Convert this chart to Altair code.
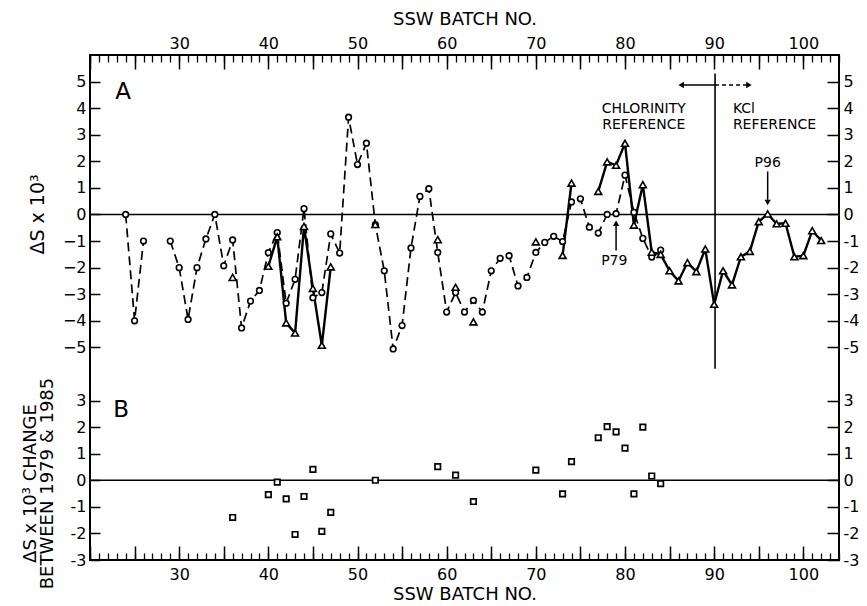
import altair as alt
import pandas as pd

# ---------------- data ----------------
CIRCLE_BATCH = [24, 25, 26,
                29, 30, 31, 32, 33, 34, 35, 36, 37, 38, 39, 40, 41, 42, 43, 44, 45, 46, 47, 48,
                49, 50, 51, 52, 53, 54, 55, 56, 57, 58, 59, 60, 61, 62, 63, 64, 65, 66, 67, 68,
                69, 70, 71, 72, 73, 74, 75, 76, 77, 78, 79, 80, 81, 82, 83, 84]
CIRCLE_VALUE = [0.0, -4.0, -1.0,
                -1.0, -2.0, -3.95, -2.0, -0.92, 0.0, -1.93, -0.96, -4.27, -3.26, -2.86, -1.44,
                -0.68, -3.34, -2.44, 0.22, -3.13, -2.94, -0.73, -1.45,
                3.66, 1.88, 2.68, -0.38, -2.12, -5.06, -4.18, -1.26, 0.68, 0.97, -1.43, -3.67,
                -2.94, -3.67, -3.23, -3.67, -2.12, -1.65, -1.55, -2.69,
                -2.37, -1.43, -1.05, -0.82, -1.02, 0.47, 0.59, -0.48, -0.70, 0.0, 0.03, 1.48,
                0.08, -0.90, -1.60, -1.34]

TRIANGLE_BATCH = [36, 40, 41, 42, 43, 44, 45, 46, 47, 52, 59, 61, 63, 70, 73, 74,
                  77, 78, 79, 80, 81, 82, 83, 84, 85, 86, 87, 88, 89, 90, 91, 92, 93, 94,
                  95, 96, 97, 98, 99, 100, 101, 102]
TRIANGLE_VALUE = [-2.37, -1.95, -0.84, -4.08, -4.46, -0.45, -2.78, -4.92, -1.97, -0.38,
                  -0.95, -2.74, -4.04, -1.03, -1.54, 1.18,
                  0.87, 1.98, 1.85, 2.68, -0.40, 1.12, -1.42, -1.50, -2.12, -2.50, -1.81,
                  -2.15, -1.30, -3.38, -2.12, -2.65, -1.59, -1.39, -0.27, 0.02, -0.35,
                  -0.33, -1.59, -1.55, -0.61, -0.98]

SQUARE_BATCH = [36, 40, 41, 42, 43, 44, 45, 46, 47, 52, 59, 61, 63, 70, 73, 74,
                77, 78, 79, 80, 81, 82, 83, 84]
SQUARE_CHANGE = [-1.40, -0.54, -0.07, -0.70, -2.04, -0.61, 0.41, -1.92, -1.21, 0.0,
                 0.51, 0.19, -0.80, 0.38, -0.51, 0.70,
                 1.60, 2.02, 1.82, 1.21, -0.51, 2.00, 0.16, -0.13]

A_TICKS = [5, 4, 3, 2, 1, 0, -1, -2, -3, -4, -5]
B_TICKS = [3, 2, 1, 0, -1, -2, -3]
X_DOMAIN = [20, 104]
Y_DOMAIN = [-13, 6]
B_OFFSET = -10          # panel B drawn 10 units below panel A on the same frame
ZERO_LINES = [0, B_OFFSET]

DIVIDER_X = 90.1
DIVIDER_Y = [5.3, -5.8]
ARROW_Y = 4.87
LEFT_TIP = 85.9
RIGHT_TIP = 94.3

FONT = "DejaVu Sans"

# ---------------- tables ----------------
circ = pd.DataFrame({"batch": CIRCLE_BATCH, "value": CIRCLE_VALUE})
circ["seg"] = (circ["batch"].diff() != 1).cumsum()
tri = pd.DataFrame({"batch": TRIANGLE_BATCH, "value": TRIANGLE_VALUE})
tri["seg"] = (tri["batch"].diff() != 1).cumsum()
sq = pd.DataFrame({"batch": SQUARE_BATCH,
                   "value": [v + B_OFFSET for v in SQUARE_CHANGE]})
zl = pd.DataFrame({"y": ZERO_LINES})

xs = alt.Scale(domain=X_DOMAIN, nice=False, zero=False)
ys = alt.Scale(domain=Y_DOMAIN, nice=False, zero=False)

common = dict(domain=False, grid=False, tickColor="black", labelColor="black",
              titleColor="black", labelFont=FONT, titleFont=FONT, labelFlush=False,
              labelOverlap=False, titleFontWeight="normal")

major_x = list(range(20, 105, 5))
minor_x = list(range(20, 105, 1))
x_label_expr = "datum.value % 10 == 0 && datum.value >= 30 ? datum.value : ''"

ax_top_major = alt.Axis(orient="top", values=major_x, tickSize=14, offset=-14,
                        tickWidth=1.5, labelExpr=x_label_expr, labelPadding=4,
                        labelFontSize=16, title="SSW BATCH NO.", titleFontSize=18,
                        titlePadding=7, **common)
ax_top_minor = alt.Axis(orient="top", values=minor_x, tickSize=7, offset=-7,
                        tickWidth=1.3, labels=False, title="", **common)
ax_bot_major = alt.Axis(orient="bottom", values=major_x, tickSize=14, offset=-14,
                        tickWidth=1.5, labelExpr=x_label_expr, labelPadding=6,
                        labelFontSize=16, title="SSW BATCH NO.", titleFontSize=18,
                        titlePadding=3, **common)
ax_bot_minor = alt.Axis(orient="bottom", values=minor_x, tickSize=7, offset=-7,
                        tickWidth=1.3, labels=False, title="", **common)

ax_left_a = alt.Axis(orient="left", values=A_TICKS, tickSize=10, offset=-10,
                     tickWidth=1.5, labelPadding=4, labelFontSize=16,
                     title="ΔS x 10³", titleFontSize=19, titleX=-53, titleY=159,
                     titleAlign="center", titleBaseline="bottom", **common)
ax_left_b = alt.Axis(orient="left", values=[v + B_OFFSET for v in B_TICKS],
                     tickSize=10, offset=-10, tickWidth=1.5, labelPadding=4,
                     labelFontSize=16, labelExpr=f"datum.value - ({B_OFFSET})",
                     title=["ΔS x 10³ CHANGE", "BETWEEN 1979 & 1985"], titleFontSize=18,
                     titleLineHeight=17, titleX=-61, titleY=428,
                     titleAlign="center", titleBaseline="bottom", **common)
ax_right = alt.Axis(orient="right", values=A_TICKS + [v + B_OFFSET for v in B_TICKS],
                    tickSize=12, offset=-12, tickWidth=1.5, labelPadding=4,
                    labelFontSize=16,
                    labelExpr=f"datum.value < -6 ? datum.value - ({B_OFFSET}) : datum.value",
                    title="", **common)


def X(ax=None):
    if ax is None:
        return alt.X("batch:Q", scale=xs, axis=None)
    return alt.X("batch:Q", scale=xs, axis=ax)


def Y(ax=None, field="value:Q"):
    if ax is None:
        return alt.Y(field, scale=ys, axis=None)
    return alt.Y(field, scale=ys, axis=ax)


zero = alt.Chart(zl).mark_rule(color="black", strokeWidth=1.5).encode(y=Y(field="y:Q"))

divider = alt.Chart(pd.DataFrame({"batch": [DIVIDER_X], "y1": [DIVIDER_Y[0]],
                                  "y2": [DIVIDER_Y[1]]})).mark_rule(
    color="black", strokeWidth=1.6).encode(x=X(), y=Y(field="y1:Q"), y2="y2:Q")

circ_line = alt.Chart(circ).mark_line(color="black", strokeWidth=1.7,
                                      strokeDash=[9, 5]).encode(
    x=X(ax_top_major), y=Y(ax_left_a), detail="seg:N")
tri_line = alt.Chart(tri).mark_line(color="black", strokeWidth=2.4).encode(
    x=X(ax_top_minor), y=Y(ax_left_b), detail="seg:N")

circ_pts = alt.Chart(circ).mark_point(shape="circle", size=32, filled=True, fill="white",
                                      stroke="black", strokeWidth=1.6, opacity=1).encode(
    x=X(ax_bot_major), y=Y(ax_right))
tri_pts = alt.Chart(tri).mark_point(shape="triangle-up", size=48, filled=True, fill="white",
                                    stroke="black", strokeWidth=1.6, opacity=1).encode(
    x=X(ax_bot_minor), y=Y())
sq_pts = alt.Chart(sq).mark_point(shape="square", size=30, filled=True, fill="white",
                                  stroke="black", strokeWidth=1.7, opacity=1).encode(
    x=X(), y=Y())

# arrows
arrow_lines = pd.DataFrame({
    "batch": [DIVIDER_X, 96.0, 79.0],
    "b2": [LEFT_TIP + 0.4, 96.0, 79.0],
    "y1": [ARROW_Y, 1.62, -1.36],
    "y2": [ARROW_Y, 0.55, -0.40],
})
arrow_solid = alt.Chart(arrow_lines).mark_rule(color="black", strokeWidth=1.5).encode(
    x=X(), x2="b2:Q", y=Y(field="y1:Q"), y2="y2:Q")
arrow_dash = alt.Chart(pd.DataFrame({"batch": [DIVIDER_X], "b2": [RIGHT_TIP - 0.4],
                                     "y1": [ARROW_Y]})).mark_rule(
    color="black", strokeWidth=1.5, strokeDash=[4, 3]).encode(
    x=X(), x2="b2:Q", y=Y(field="y1:Q"))

heads = pd.DataFrame({
    "batch": [LEFT_TIP + 0.4, RIGHT_TIP - 0.4, 96.0, 79.0],
    "value": [ARROW_Y, ARROW_Y, 0.45, -0.33],
    "shape": ["triangle-left", "triangle-right", "triangle-down", "triangle-up"],
})
head_pts = alt.Chart(heads).mark_point(filled=True, color="black", size=40,
                                       opacity=1).encode(
    x=X(), y=Y(), shape=alt.Shape("shape:N", scale=None, legend=None))

# texts
t_center = pd.DataFrame({
    "batch": [82.1, 96.0, 78.8],
    "value": [3.98, 1.93, -1.76],
    "label": ["CHLORINITY\nREFERENCE", "P96", "P79"],
})
t_left = pd.DataFrame({
    "batch": [92.1],
    "value": [3.98],
    "label": ["KCl\nREFERENCE"],
})
t_panel = pd.DataFrame({
    "batch": [23.7, 23.5],
    "value": [4.6, -7.36],
    "label": ["A", "B"],
})
txt_c = alt.Chart(t_center).mark_text(font=FONT, fontSize=14, color="black",
                                      align="center", baseline="middle",
                                      lineBreak="\n", lineHeight=16).encode(
    x=X(), y=Y(), text="label:N")
txt_l = alt.Chart(t_left).mark_text(font=FONT, fontSize=14, color="black",
                                    align="left", baseline="middle",
                                    lineBreak="\n", lineHeight=16).encode(
    x=X(), y=Y(), text="label:N")
txt_p = alt.Chart(t_panel).mark_text(font=FONT, fontSize=23, color="black",
                                     align="center", baseline="middle").encode(
    x=X(), y=Y(), text="label:N")

chart = alt.layer(
    zero, divider, circ_line, tri_line, arrow_solid, arrow_dash,
    circ_pts, tri_pts, sq_pts, head_pts, txt_c, txt_l, txt_p,
).resolve_axis(x="independent", y="independent").properties(
    width=749, height=505,
    autosize=alt.AutoSizeParams(type="none"),
    padding={"left": 82, "top": 47, "right": 20, "bottom": 42},
    background="white",
).configure_view(stroke="black", strokeWidth=2)

chart.save("out.html", embed_options={"renderer": "svg", "actions": False})
